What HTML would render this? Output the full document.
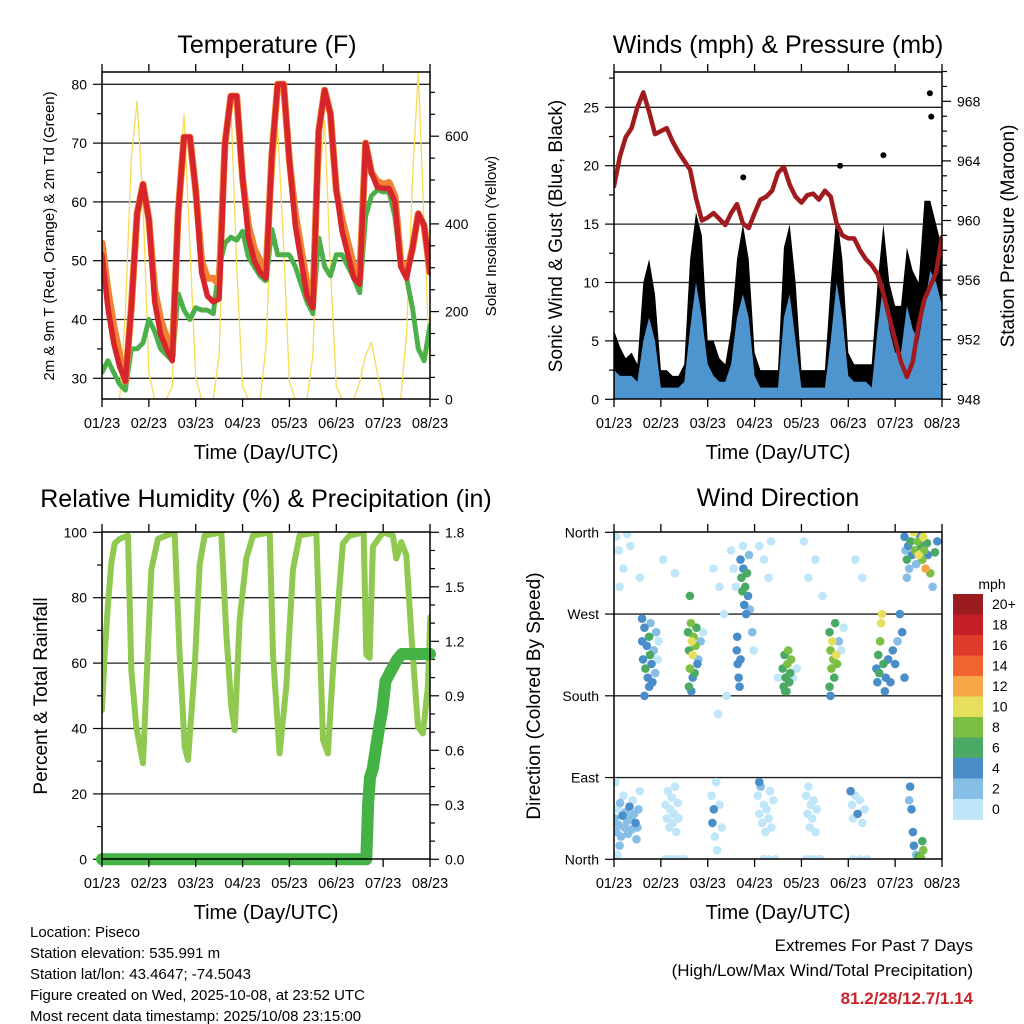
<!DOCTYPE html>
<html><head><meta charset="utf-8"><title>Piseco Station Charts</title>
<style>
html,body{margin:0;padding:0;background:#fff;}
svg{display:block;font-family:"Liberation Sans",sans-serif;}
</style></head>
<body>
<svg id="chart" width="1024" height="1024" viewBox="0 0 1024 1024" xmlns="http://www.w3.org/2000/svg">
<rect x="0" y="0" width="1024" height="1024" fill="#fff"/>
<text x="267" y="53" font-size="25" text-anchor="middle">Temperature (F)</text>
<text x="778" y="53" font-size="25" text-anchor="middle">Winds (mph) &amp; Pressure (mb)</text>
<text x="266" y="507" font-size="25" text-anchor="middle">Relative Humidity (%) &amp; Precipitation (in)</text>
<text x="778" y="506" font-size="25" text-anchor="middle">Wind Direction</text>
<text x="266" y="459" font-size="20" text-anchor="middle">Time (Day/UTC)</text>
<text x="778" y="459" font-size="20" text-anchor="middle">Time (Day/UTC)</text>
<text x="266" y="919" font-size="20" text-anchor="middle">Time (Day/UTC)</text>
<text x="778" y="919" font-size="20" text-anchor="middle">Time (Day/UTC)</text>
<text transform="translate(54,236) rotate(-90)" font-size="15" text-anchor="middle">2m &amp; 9m T (Red, Orange) &amp; 2m Td (Green)</text>
<text transform="translate(496,236) rotate(-90)" font-size="15" text-anchor="middle">Solar Insolation (Yellow)</text>
<text transform="translate(562,236) rotate(-90)" font-size="19" text-anchor="middle">Sonic Wind &amp; Gust (Blue, Black)</text>
<text transform="translate(1014,236) rotate(-90)" font-size="19" text-anchor="middle">Station Pressure (Maroon)</text>
<text transform="translate(47,696) rotate(-90)" font-size="19" text-anchor="middle">Percent &amp; Total Rainfall</text>
<text transform="translate(540,696) rotate(-90)" font-size="19" text-anchor="middle">Direction (Colored By Speed)</text>
<g font-size="15">
<text x="30" y="937">Location: Piseco</text>
<text x="30" y="958">Station elevation: 535.991 m</text>
<text x="30" y="979">Station lat/lon: 43.4647; -74.5043</text>
<text x="30" y="1000">Figure created on Wed, 2025-10-08, at 23:52 UTC</text>
<text x="30" y="1021">Most recent data timestamp: 2025/10/08 23:15:00</text>
</g>
<text x="973" y="951" font-size="17" text-anchor="end">Extremes For Past 7 Days</text>
<text x="973" y="976" font-size="17" text-anchor="end">(High/Low/Max Wind/Total Precipitation)</text>
<text x="973" y="1004" font-size="17" font-weight="bold" fill="#cc2229" text-anchor="end">81.2/28/12.7/1.14</text>
</svg>
<script>
// ---------- DATA ----------
const xTickLabels = ["01/23","02/23","03/23","04/23","05/23","06/23","07/23","08/23"];
const hours = [0,3,6,9,12,15,18,21,24,27,30,33,36,39,42,45,48,51,54,57,60,63,66,69,72,75,78,81,84,87,90,93,96,99,102,105,108,111,114,117,120,123,126,129,132,135,138,141,144,147,150,153,156,159,162,165,168];
const temp2m = [51,42,36,32,29.5,42,58,63,57,43,37.5,35,33,58,71,71,62,48,44,43,43.5,70,78,78,64,54,50,48,47,68,80,80,67,56,50,44,42,72,79,75,62,55,51,47,46,70,65,62.5,62.3,62.3,60,49,47,52,58,56,48];
const temp9m = [53,45,39,34,29.5,42,58,63,57,45,40,37,34,58,71,71,62,50,47,47,46,70,78,78,64,56,52,50,48,68,80,80,67,58,52,46,43,72,79,75,62,57,53,49,47,70,65,63.5,63,63.3,61,50,48,52,58,56,48];
const dewpoint = [31,33,31,29,28,35,35,36,40,38,35,34,33,44.5,41.6,40,42,41.6,41.6,41,49,53,54,53.5,55,50.6,49,47.4,46.5,55.3,51,51,51,49,46,43,41,54,49,47.4,51,51,49,47,44.5,57.5,61,62,61.7,61.7,57.5,49,47,42,35,33,39];
const solar = [0,0,0,0,200,550,680,450,60,0,0,0,30,450,650,350,50,0,0,0,100,500,675,300,30,0,0,0,120,450,620,350,40,0,0,0,100,480,636,300,30,0,0,0,40,100,130,60,0,0,0,0,150,500,746,400,60];
const gust = [5.9,4.5,3.5,4,3,10,12,9,2.5,2.5,2,2,3,12,16,14,5,5,3.5,3,6,12,15,12,4,2.5,2.5,2.5,2.5,13,15,10,2.5,2.5,2.5,2.5,2.5,10,16,12,4,3,3,3,3,10,15,10,8,8,13,11,10,17,17,15,13];
const wind = [2.5,2,2,2,1.5,5,7,5,1,1,1,1,1.5,6,10,7,3,2,1.5,1.5,3,7,9,7,2,1,1,1,1,7,9,5,1,1,1,1,1,5,10,7,2,1.5,1.5,1.5,1,6,10,6,4,4,8,6,5,8,11,10,8];
const pressure = [962.3,964.3,965.6,966.2,967.6,968.6,967.3,965.8,966,966.2,965.3,964.6,964,963.4,961.5,960,960.2,960.5,960.1,959.7,960.5,961.1,959.8,959.5,960.5,961.4,961.6,962,963.2,963.6,962.4,961.6,961.2,961.7,961.8,961.4,962,961.6,959.8,959,958.8,958.8,958,957.4,957,956.4,955.1,953.5,952,950.5,949.5,950.5,953,954.7,955.6,956.5,958.9];
const gustOutlierHours = [161.8,162.5,138,115.8,66.2];
const gustOutlierValues = [26.2,24.2,20.9,20,19];
const rhDays = [0,.057,.128,.199,.27,.377,.555,.626,.733,.875,.946,1.053,1.195,1.55,1.657,1.764,1.835,1.977,2.084,2.19,2.546,2.653,2.76,2.831,2.937,3.08,3.222,3.578,3.649,3.791,3.933,4.075,4.217,4.573,4.644,4.716,4.822,4.929,5.142,5.284,5.583,5.64,5.711,5.782,5.996,6.209,6.28,6.387,6.494,6.6,6.743,6.849,6.956,7.006];
const rhValues = [45.7,63,78,90.5,96.6,98,99,58,40.5,29.4,52.8,88.5,98,100,63,34.4,30.4,58,90,99,100,69,46.7,39.5,73,92,99,100,62.6,32.4,52.8,88.5,99,100,69,36.5,32.4,58,96.6,99,100,62.6,61.6,95.6,100,99,92,97,93,69,40.5,38.5,52.8,74];
const precipDays = [0,5.64,5.68,5.72,5.78,5.85,5.93,5.98,6.05,6.15,6.3,6.4,7];
const precipValues = [0,0,0.3,0.45,0.5,0.62,0.75,0.82,0.98,1.03,1.1,1.13,1.13];
const dirDays = [0.02,0.05,0.08,0.1,0.13,0.15,0.18,0.2,0.22,0.25,0.28,0.3,0.33,0.36,0.38,0.4,0.43,0.46,0.48,0.52,0.55,0.03,0.12,0.07,0.5,
0.6,0.62,0.65,0.67,0.7,0.72,0.75,0.77,0.8,0.82,0.85,0.88,0.9,0.93,0.6,0.75,0.65,0.95,0.78,
0.05,0.1,0.28,0.2,0.12,0.55,0.35,
1.1,1.13,1.15,1.18,1.2,1.23,1.26,1.28,1.3,1.33,1.36,1.38,1.1,1.2,1.3,1.4,1.5,1.05,1.3,
1.58,1.6,1.62,1.64,1.66,1.68,1.7,1.72,1.74,1.76,1.78,1.6,1.65,1.8,1.85,1.62,1.9,1.68,
2.08,2.1,2.13,2.15,2.18,2.2,2.25,2.3,2.12,2.25,2.35,2.4,2.22,
2.62,2.64,2.66,2.68,2.63,2.7,
2.7,2.72,2.74,2.76,2.78,2.8,2.82,2.84,2.86,2.9,2.95,2.98,2.88,2.75,
2.5,2.55,2.6,3.1,3.2,3.3,3.35,
3.07,3.1,3.13,3.16,3.2,3.23,3.26,3.3,3.33,3.36,3.1,3.2,3.3,3.45,3.4,
3.6,3.62,3.64,3.66,3.68,3.7,3.72,3.74,3.76,3.78,3.65,3.82,3.5,3.9,
4.1,4.13,4.15,4.18,4.2,4.23,4.26,4.3,4.33,4.1,4.2,4.3,4.4,4.15,4.3,4.05,4.45,
4.6,4.62,4.64,4.66,4.68,4.7,4.72,4.74,4.76,4.6,4.8,4.85,4.9,4.62,
5.05,5.08,5.1,5.15,5.2,5.25,5.3,5.35,5.1,5.25,5.4,5.15,5.3,
5.6,5.62,5.64,5.66,5.68,5.7,5.72,5.75,5.8,5.85,5.9,5.95,6.0,6.05,6.1,6.15,5.78,6.2,
6.2,6.22,6.25,6.28,6.3,6.33,6.36,6.4,6.42,6.45,6.48,6.5,6.52,6.55,6.58,6.6,6.62,6.65,6.68,6.7,6.75,6.8,6.85,6.9,6.25,
6.32,6.35,6.38,6.4,6.45,6.5,6.55,6.6,6.58,6.3];
const dirDegrees = [45,30,55,38,62,25,48,70,35,52,42,28,58,45,33,65,50,40,22,55,75,85,15,5,35,
240,220,255,210,235,200,245,225,215,195,230,205,250,220,265,190,180,240,260,
355,340,358,320,300,310,345,
60,45,75,35,55,68,40,50,80,30,62,45,0,0,0,0,0,330,315,
250,230,210,260,240,225,245,205,235,255,215,190,185,220,240,290,250,200,
70,40,55,25,85,10,60,35,320,300,270,180,160,
230,215,200,190,245,220,
330,310,295,320,280,300,270,315,290,275,250,230,335,345,
340,320,300,345,330,310,350,
70,50,80,40,60,30,55,45,75,35,85,0,0,0,65,
210,190,225,200,185,215,230,195,205,220,185,200,200,210,
70,50,80,35,60,45,65,30,55,0,0,0,0,310,330,350,290,
250,230,210,240,220,200,260,225,215,190,240,230,255,180,
75,60,45,70,50,65,40,55,0,0,0,330,310,
210,195,225,205,240,260,270,215,200,220,195,230,215,240,270,250,185,200,
355,340,330,345,320,350,335,360,340,325,350,335,358,345,330,355,340,320,348,335,315,300,338,350,310,
80,55,30,15,5,3,2,10,20,65];
const dirSpeeds = [2,3,1,3,2,3,4,1,2,3,3,2,4,3,2,1,3,4,2,3,1,1,2,1,2,
4,5,4,6,5,4,6,7,5,4,3,2,2,1,4,5,4,1,3,
1,1,1,0,1,1,1,
1,1,1,1,1,1,1,1,1,1,1,1,1,1,1,1,1,1,1,
6,7,8,8,10,10,9,6,8,7,5,6,4,3,2,6,1,4,
1,4,4,1,1,1,1,1,1,1,1,1,1,
4,4,4,4,4,5,
5,6,6,5,4,7,5,6,4,3,2,1,2,1,
1,1,1,1,1,1,1,
1,1,2,1,1,1,1,1,1,1,4,1,1,1,1,
6,6,7,6,7,8,8,7,6,8,6,1,1,1,
1,1,1,1,1,1,1,1,1,1,1,1,1,1,1,1,1,
6,8,9,10,9,7,6,10,9,6,2,1,1,4,
4,1,1,1,4,1,1,1,1,1,1,1,1,
4,5,6,7,8,10,10,6,4,4,4,5,4,3,4,4,4,4,
4,3,6,4,3,7,4,10,8,3,8,10,4,7,9,11,8,13,6,4,9,3,7,4,2,
4,4,4,4,3,7,8,8,7,3];
const speedLabels = ["20+","18","16","14","12","10","8","6","4","2","0"];
const speedColors = ["#bfe6f9","#86bee6","#4a8ec9","#4ba966","#7bbf45","#e6df5c","#f6a547","#f0642f","#e03a2c","#c41f26","#9b1c1e"];

// ---------- HELPERS ----------
const NS = "http://www.w3.org/2000/svg";
const svg = document.getElementById("chart");
function mk(tag, attrs, parent) {
  const e = document.createElementNS(NS, tag);
  for (const k in attrs) e.setAttribute(k, attrs[k]);
  (parent || svg).appendChild(e);
  return e;
}
const DAY = 46.857;
const P1 = {x0:102, x1:430, y0:72, y1:399};
const P2 = {x0:614, x1:942, y0:72, y1:399};
const P3 = {x0:102, x1:430, y0:532, y1:859};
const P4 = {x0:614, x1:942, y0:532, y1:859};
const xDay = (p, d) => p.x0 + d * DAY;
const xHour = (p, h) => p.x0 + h / 24 * DAY;
const yTemp = t => 378.3 - (t - 30) * 5.88;
const ySolar = s => 399.3 - s * 0.4385;
const yWind = w => 399.3 - w * 11.68;
const yPres = p => 399.3 - (p - 948) * 14.9;
const yRH = r => 859.3 - r * 3.27;
const yPrecip = v => 859.3 - v / 1.8 * 327;
const yDir = d => 859.3 - d / 360 * 327;

function clip(p, id) {
  const cp = mk("clipPath", {id: id});
  mk("rect", {x: p.x0, y: p.y0, width: p.x1 - p.x0, height: p.y1 - p.y0}, cp);
}
clip(P1, "c1"); clip(P2, "c2"); clip(P3, "c3"); clip(P4, "c4");

function frame(p, name) {
  const g = mk("g", {});
  
  
  for (let d = 0; d < xTickLabels.length; d++) {
    const x = xDay(p, d);
    mk("line", {x1: x, x2: x, y1: p.y1, y2: p.y1 + 8, stroke: "#000", "stroke-width": 1.3}, g);
    mk("line", {x1: x, x2: x, y1: p.y0, y2: p.y0 - 8, stroke: "#000", "stroke-width": 1.3}, g);
    const t = mk("text", {x: x, y: p.y1 + 29, "font-size": 14.5, "text-anchor": "middle"}, g);
    
    
    t.textContent = xTickLabels[d];
  }
}
function yAxis(p, side, yFn, lo, hi, minorStep, majorStep, fmt, grid, name) {
  const g = mk("g", {});
  
  
  const n = Math.round((hi - lo) / minorStep);
  for (let k = 0; k <= n; k++) {
    const v = lo + k * minorStep;
    const y = yFn(v);
    if (y < p.y0 - 0.5 || y > p.y1 + 0.5) continue;
    const major = Math.abs(((v - lo) / majorStep) - Math.round((v - lo) / majorStep)) < 1e-6;
    const len = major ? 9 : 5;
    const x = side === "left" ? p.x0 : p.x1;
    const dx = side === "left" ? -len : len;
    mk("line", {x1: x, x2: x + dx, y1: y, y2: y, stroke: "#000", "stroke-width": 1.2}, g);
    if (major) {
      if (grid && y > p.y0 + 1 && y < p.y1 - 1) mk("line", {x1: p.x0, x2: p.x1, y1: y, y2: y, stroke: "#222", "stroke-width": 1.3}, g);
      const t = mk("text", {x: side === "left" ? p.x0 - 15 : p.x1 + 15, y: y + 5, "font-size": 14, "text-anchor": side === "left" ? "end" : "start"}, g);
      
      
      t.textContent = fmt(v);
    }
  }
}
function line(xs, ys, attrs, clipId, name) {
  let d = "";
  for (let i = 0; i < xs.length; i++) d += (i ? "L" : "M") + xs[i].toFixed(1) + "," + ys[i].toFixed(1);
  const a = Object.assign({d: d, fill: "none", "stroke-linejoin": "round", "stroke-linecap": "round", "clip-path": "url(#" + clipId + ")"}, attrs);
  const e = mk("path", a);
  
  
  return e;
}
function area(xs, ys, base, fill, clipId, name) {
  let d = "M" + xs[0].toFixed(1) + "," + base;
  for (let i = 0; i < xs.length; i++) d += "L" + xs[i].toFixed(1) + "," + ys[i].toFixed(1);
  d += "L" + xs[xs.length - 1].toFixed(1) + "," + base + "Z";
  const e = mk("path", {d: d, fill: fill, "clip-path": "url(#" + clipId + ")"});
  
  
  return e;
}

// ---------- PANEL 1: TEMPERATURE ----------
yAxis(P1, "left", yTemp, 30, 80, 5, 10, v => v, true, "temperature-y-axis");
yAxis(P1, "right", ySolar, 0, 700, 50, 200, v => v, false, "solar-y-axis");
const x1s = hours.map(h => xHour(P1, h));
line(x1s, solar.map(ySolar), {stroke: "#f7dc55", "stroke-width": 1.3}, "c1", "solar-line");
line(x1s, dewpoint.map(yTemp), {stroke: "#4bb04a", "stroke-width": 5, "stroke-dasharray": "3 2"}, "c1", "dewpoint-line");
line(x1s, temp9m.map(yTemp), {stroke: "#f08232", "stroke-width": 7}, "c1", "temp-9m-line");
line(x1s, temp2m.map(yTemp), {stroke: "#d7262b", "stroke-width": 5.5}, "c1", "temp-2m-line");
mk("rect", {x: P1.x0, y: P1.y0, width: P1.x1 - P1.x0, height: P1.y1 - P1.y0, fill: "none", stroke: "#000", "stroke-width": 1.5});
frame(P1, "temperature");

// ---------- PANEL 2: WINDS & PRESSURE ----------
yAxis(P2, "left", yWind, 0, 27.5, 2.5, 5, v => v, true, "wind-y-axis");
yAxis(P2, "right", yPres, 948, 970, 1, 4, v => v, false, "pressure-y-axis");
const x2s = hours.map(h => xHour(P2, h));
area(x2s, gust.map(yWind), P2.y1, "#000", "c2", "gust-area");
area(x2s, wind.map(yWind), P2.y1, "#4e95d0", "c2", "wind-area");
for (let i = 0; i < gustOutlierHours.length; i++) {
  const c = mk("circle", {cx: xHour(P2, gustOutlierHours[i]), cy: yWind(gustOutlierValues[i]), r: 3, fill: "#000"});
  
  
}
line(x2s, pressure.map(yPres), {stroke: "#a01a1e", "stroke-width": 4.5}, "c2", "pressure-line");
mk("rect", {x: P2.x0, y: P2.y0, width: P2.x1 - P2.x0, height: P2.y1 - P2.y0, fill: "none", stroke: "#000", "stroke-width": 1.5});
frame(P2, "winds");

// ---------- PANEL 3: RH & PRECIP ----------
yAxis(P3, "left", yRH, 0, 100, 10, 20, v => v, true, "humidity-y-axis");
yAxis(P3, "right", yPrecip, 0, 1.8, 0.1, 0.3, v => v.toFixed(1), false, "precip-y-axis");
line(rhDays.map(d => xDay(P3, d)), rhValues.map(yRH), {stroke: "#8fc94f", "stroke-width": 6}, "c3", "humidity-line");
line(precipDays.map(d => xDay(P3, d)), precipValues.map(yPrecip), {stroke: "#45b245", "stroke-width": 12}, "none", "precip-line");
mk("rect", {x: P3.x0, y: P3.y0, width: P3.x1 - P3.x0, height: P3.y1 - P3.y0, fill: "none", stroke: "#000", "stroke-width": 1.5});
frame(P3, "humidity");

// ---------- PANEL 4: WIND DIRECTION ----------
const dirLabels = ["North","East","South","West","North"];
const g4 = mk("g", {});


for (let k = 0; k < dirLabels.length; k++) {
  const y = yDir(k * 90);
  mk("line", {x1: P4.x0 - 9, x2: P4.x0, y1: y, y2: y, stroke: "#000", "stroke-width": 1.2}, g4);
  if (k > 0 && k < 4) mk("line", {x1: P4.x0, x2: P4.x1, y1: y, y2: y, stroke: "#222", "stroke-width": 1.3}, g4);
  const t = mk("text", {x: P4.x0 - 15, y: y + 5, "font-size": 14, "text-anchor": "end"}, g4);
  
  
  t.textContent = dirLabels[k];
}
const pts = mk("g", {"clip-path": "url(#c4)"});


const order = dirSpeeds.map((s, i) => i).sort((a, b) => dirSpeeds[a] - dirSpeeds[b]);
for (const i of order) {
  const bin = Math.min(10, Math.floor(dirSpeeds[i] / 2 + 0.25));
  const c = mk("circle", {cx: xDay(P4, dirDays[i]), cy: yDir(dirDegrees[i]), r: 4.3, fill: speedColors[bin]}, pts);
  
  
}
mk("rect", {x: P4.x0, y: P4.y0, width: P4.x1 - P4.x0, height: P4.y1 - P4.y0, fill: "none", stroke: "#000", "stroke-width": 1.5});
frame(P4, "wind-direction");

// colorbar
const cb = mk("g", {});


const cbt = mk("text", {x: 992, y: 589, "font-size": 14, "text-anchor": "middle"}, cb);


cbt.textContent = "mph";
for (let k = 0; k < speedLabels.length; k++) {
  const y = 594 + k * 20.5;
  const r = mk("rect", {x: 953, y: y, width: 30, height: 20.8, fill: speedColors[10 - k]}, cb);
  
  
  const t = mk("text", {x: 992, y: y + 15, "font-size": 14}, cb);
  
  
  t.textContent = speedLabels[k];
}
</script>
</body></html>
